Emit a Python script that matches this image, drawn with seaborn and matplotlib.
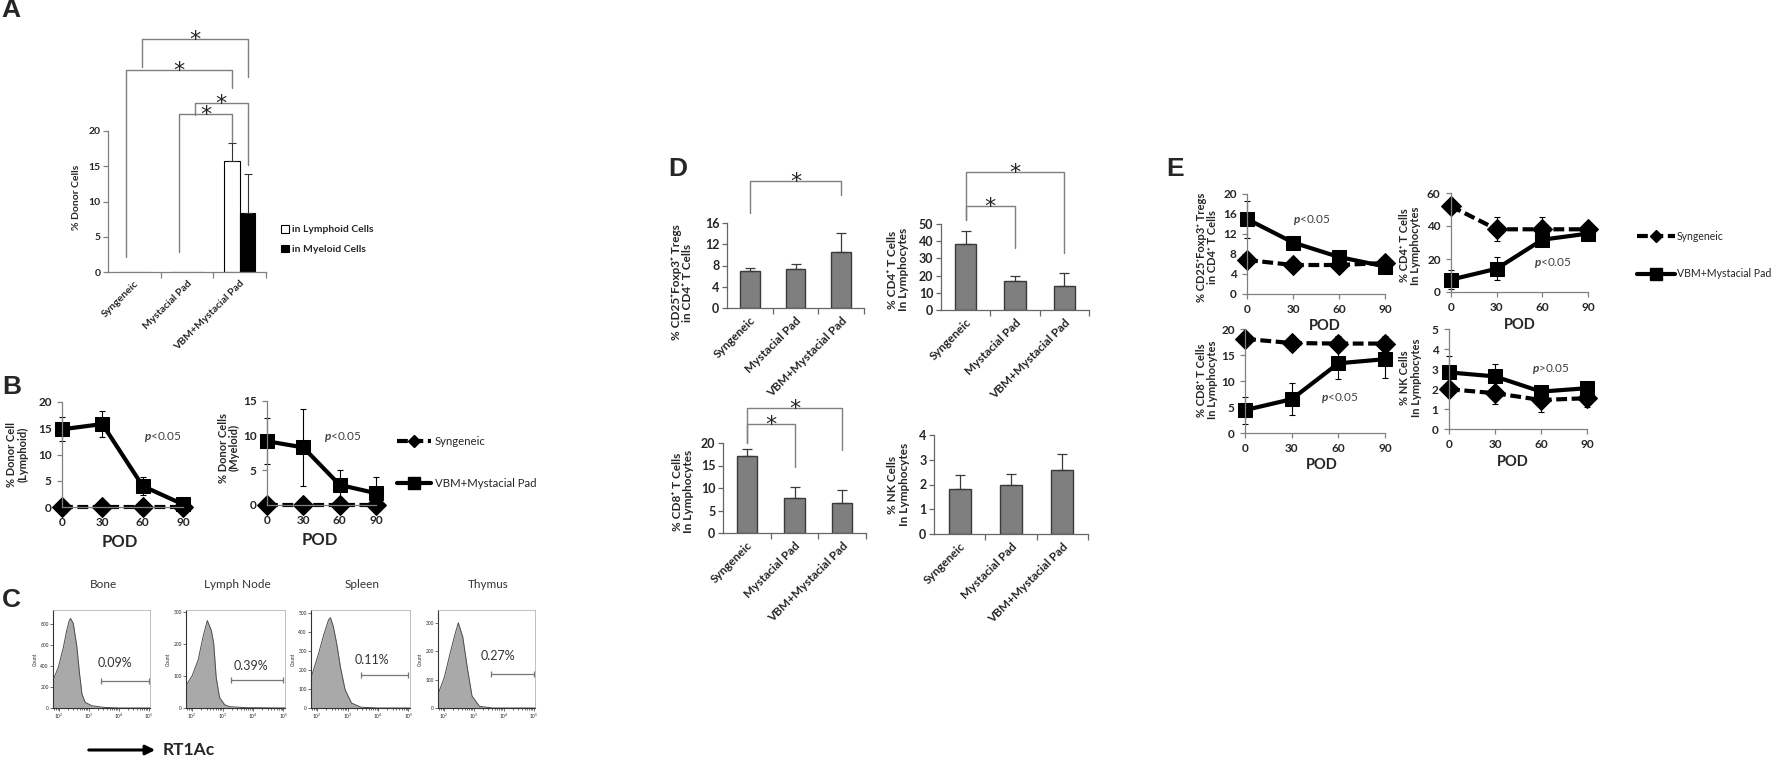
import numpy as np
import pandas as pd
import seaborn as sns
import matplotlib.pyplot as plt
from matplotlib.lines import Line2D
from matplotlib.patches import Patch

sns.set_theme(style='white')
plt.rcParams['font.family'] = ['Lato', 'DejaVu Sans']
plt.rcParams['font.weight'] = 'bold'
plt.rcParams['axes.labelweight'] = 'bold'
plt.rcParams['axes.facecolor'] = 'none'
plt.rcParams['mathtext.fontset'] = 'custom'
plt.rcParams['mathtext.rm'] = 'Lato'
plt.rcParams['mathtext.it'] = 'Lato:italic'
plt.rcParams['mathtext.bf'] = 'Lato:bold'

# ---------------- data ----------------
groups = ['Syngeneic', 'Mystacial Pad', 'VBM+Mystacial Pad']
pod = [0, 30, 60, 90]
lymph_lab = 'in Lymphoid Cells'
myel_lab = 'in Myeloid Cells'

# A: % donor cells
donor_lymphoid = [0.05, 0.05, 15.7]
donor_lymphoid_err = [0, 0, 2.6]
donor_myeloid = [0.05, 0.05, 8.3]
donor_myeloid_err = [0, 0, 5.6]
# A significance brackets (cell type, from group, to group, left leg, top, right leg)
a_br_cells = [myel_lab, lymph_lab, myel_lab, lymph_lab]
a_br_from = [0, 0, 1, 1]
a_br_to = [2, 2, 2, 2]
a_br_left = [29.1, 2.1, 22.3, 2.8]
a_br_top = [33.0, 28.6, 24.0, 22.4]
a_br_right = [27.7, 26.1, 15.2, 18.4]

# B: donor chimerism over time
b_lymph_syn = [0, 0, 0, 0]
b_lymph_vbm = [14.8, 15.8, 4.0, 0.5]
b_lymph_vbm_err = [2.3, 2.5, 1.7, 0.3]
b_myel_syn = [0, 0, 0, 0]
b_myel_vbm = [9.2, 8.3, 2.9, 1.7]
b_myel_vbm_err = [3.3, 5.6, 2.1, 2.3]

# C: flow histograms (log10 fluorescence, count)
bone_log = [1.8, 1.98, 2.15, 2.26, 2.35, 2.39, 2.48, 2.6, 2.69, 2.77, 2.88, 3.1, 3.49, 4.0, 5.05]
bone_count = [262, 390, 582, 742, 838, 854, 806, 582, 326, 134, 54, 22, 6, 0, 0]
lymph_log = [1.8, 2.0, 2.2, 2.36, 2.5, 2.63, 2.71, 2.79, 2.9, 3.07, 3.24, 3.8, 5.05]
lymph_count = [70, 100, 150, 222, 272, 242, 201, 96, 33, 10, 4, 1, 0]
spleen_log = [1.8, 2.04, 2.22, 2.38, 2.44, 2.53, 2.65, 2.77, 2.92, 3.13, 3.44, 4.0, 5.05]
spleen_count = [158, 281, 386, 465, 474, 430, 333, 211, 96, 26, 4, 0, 0]
thymus_log = [1.8, 2.01, 2.2, 2.36, 2.48, 2.63, 2.78, 2.94, 3.19, 3.62, 5.05]
thymus_count = [48, 107, 190, 256, 300, 250, 143, 42, 6, 0, 0]
tissues = ['Bone', 'Lymph Node', 'Spleen', 'Thymus']
hist_ymax = [935, 305, 515, 345]
hist_yticks = [[0, 200, 400, 600, 800], [0, 100, 200, 300], [0, 100, 200, 300, 400, 500], [0, 100, 200, 300]]
gate_lo = [3.4, 3.28, 3.44, 3.58]
gate_y = [260, 88, 175, 118]
gate_pct = ['0.09%', '0.39%', '0.11%', '0.27%']
pct_x = [3.88, 3.93, 3.8, 3.8]
pct_y = [430, 132, 250, 183]

# D: phenotypes
tregs = [7.0, 7.3, 10.5]
tregs_err = [0.6, 0.9, 3.6]
cd4 = [38.5, 16.9, 14.2]
cd4_err = [7.6, 2.6, 7.2]
cd8 = [17.2, 7.7, 6.6]
cd8_err = [1.5, 2.6, 3.0]
nk = [1.81, 1.96, 2.59]
nk_err = [0.58, 0.46, 0.64]

# E: phenotypes over time
e_tregs_syn = [6.8, 5.8, 5.8, 6.2]
e_tregs_syn_err = [1.3, 0.5, 0.8, 0.8]
e_tregs_vbm = [15.0, 10.3, 7.4, 5.5]
e_tregs_vbm_err = [3.7, 1.2, 1.0, 0.8]
e_cd4_syn = [52, 38, 38, 38]
e_cd4_syn_err = [3, 7.3, 7.5, 4]
e_cd4_vbm = [7.5, 14.1, 31.7, 35.4]
e_cd4_vbm_err = [5.6, 7.0, 4.0, 4.0]
e_cd8_syn = [18.1, 17.3, 17.2, 17.2]
e_cd8_syn_err = [1.0, 1.3, 1.5, 1.4]
e_cd8_vbm = [4.4, 6.5, 13.4, 14.2]
e_cd8_vbm_err = [2.6, 3.1, 3.0, 3.6]
e_nk_syn = [1.99, 1.79, 1.45, 1.54]
e_nk_syn_err = [0.3, 0.55, 0.58, 0.42]
e_nk_vbm = [2.83, 2.63, 1.87, 2.04]
e_nk_vbm_err = [0.8, 0.6, 0.2, 0.2]

# ---------------- figure ----------------
W, H = 1772, 763
fig = plt.figure(figsize=(W / 100, H / 100), dpi=100)


def px_axes(x0, y0, x1, y1):
    return fig.add_axes([x0 / W, 1 - y1 / H, (x1 - x0) / W, (y1 - y0) / H])


def style(ax, color='#808080', size=8):
    sns.despine(ax=ax)
    for s in ('left', 'bottom'):
        ax.spines[s].set_color(color)
        ax.spines[s].set_linewidth(0.9)
    ax.tick_params(which='both', bottom=True, left=True, direction='out', length=3.5,
                   width=0.9, color=color, labelsize=size, pad=2)
    ax.set_xlabel('')
    ax.set_ylabel('')


def ylab(ax, text, x, y, size=8):
    ax.set_ylabel(text, fontsize=size, linespacing=1.05)
    ax.yaxis.set_label_coords(x, y)
    ax.yaxis.label.set_va('center')


def bracket(ax, x1, x2, yl, yt, yr, size=16):
    ax.plot([x1, x1, x2, x2], [yl, yt, yt, yr], color='#7f7f7f', lw=1, clip_on=False)
    ax.annotate('*', xy=((x1 + x2) / 2, yt), xytext=(0, -5), textcoords='offset points',
                ha='center', va='baseline', fontsize=size, fontweight='normal',
                family='DejaVu Sans', annotation_clip=False)


def cat_axis(ax, size=8):
    ax.set_xlim(-0.5, 2.5)
    ax.set_xticks(range(3), labels=groups, rotation=45, ha='right', rotation_mode='anchor',
                  fontsize=size)
    ax.set_xticks([0.5, 1.5, 2.5], minor=True)
    ax.tick_params(axis='x', which='major', length=0, pad=5)
    ax.tick_params(axis='x', which='minor', length=4)


overlay = fig.add_axes([0, 0, 1, 1], zorder=10)
overlay.set_xlim(0, W)
overlay.set_ylim(H, 0)
overlay.axis('off')

# panel letters
for letter, lx, ly in [('A', 1, -2), ('B', 2, 375), ('C', 2, 588), ('D', 668, 157), ('E', 1166, 157)]:
    overlay.text(lx, ly, letter, fontsize=19, fontweight='bold', family='Liberation Sans',
                 ha='left', va='top')

# ---------- A ----------
axA = px_axes(108, 131, 266, 272)
a_df = pd.DataFrame({'group': groups * 2,
                     'cells': [lymph_lab] * 3 + [myel_lab] * 3,
                     'value': donor_lymphoid + donor_myeloid})
sns.barplot(data=a_df, x='group', y='value', hue='cells', palette=['white', 'black'],
            edgecolor='black', linewidth=0.8, width=0.6, errorbar=None, saturation=1,
            legend=False, ax=axA)
centers = {}
for cont, lab, vals, errs in zip(axA.containers, [lymph_lab, myel_lab],
                                 [donor_lymphoid, donor_myeloid],
                                 [donor_lymphoid_err, donor_myeloid_err]):
    xs = [b.get_x() + b.get_width() / 2 for b in cont]
    centers[lab] = xs
    keep = [i for i, e in enumerate(errs) if e > 0]
    axA.errorbar([xs[i] for i in keep], [vals[i] for i in keep],
                 yerr=[[0] * len(keep), [errs[i] for i in keep]], fmt='none',
                 ecolor='#333333', elinewidth=0.8, capsize=3, capthick=0.8)
style(axA, size=7.5)
axA.set_ylim(0, 20)
axA.set_yticks([0, 5, 10, 15, 20])
cat_axis(axA, size=7.5)
ylab(axA, '% Donor Cells', -0.2, 0.53, size=7.5)
for c, f, t, yl, yt, yr in zip(a_br_cells, a_br_from, a_br_to, a_br_left, a_br_top, a_br_right):
    bracket(axA, centers[c][f], centers[c][t], yl, yt, yr)
fig.legend(handles=[Patch(facecolor='white', edgecolor='black', lw=0.8, label=lymph_lab),
                    Patch(facecolor='black', edgecolor='black', lw=0.8, label=myel_lab)],
           loc='upper left', bbox_to_anchor=(281 / W, 1 - 225 / H), frameon=False,
           prop=dict(weight='bold', size=7.5), handlelength=0.75, handleheight=0.75,
           handletextpad=0.3, labelspacing=1.0, borderpad=0, borderaxespad=0)


# ---------- line panels ----------
def line_panel(ax, syn, syn_err, vbm, vbm_err, ymax, yticks, ms=10):
    df = pd.DataFrame({'POD': pod * 2, 'value': syn + vbm,
                       'group': ['Syngeneic'] * 4 + ['VBM+Mystacial Pad'] * 4})
    for vals, errs in ((syn, syn_err), (vbm, vbm_err)):
        keep = [i for i, e in enumerate(errs) if e > 0]
        if keep:
            ax.errorbar([pod[i] for i in keep], [vals[i] for i in keep],
                        yerr=[errs[i] for i in keep], fmt='none', ecolor='black',
                        elinewidth=0.8, capsize=2, capthick=0.8, clip_on=False)
    sns.lineplot(data=df, x='POD', y='value', hue='group', style='group',
                 palette=['black', 'black'], markers=['D', 's'], dashes=[(2.6, 1.1), ''],
                 linewidth=3, markersize=ms, markeredgecolor='black', legend=False, ax=ax)
    for ln in ax.lines:
        ln.set_clip_on(False)
    style(ax, color='#808080', size=8.5)
    ax.tick_params(axis='x', pad=4)
    ax.tick_params(axis='y', pad=4)
    ax.set_xlim(0, 90)
    ax.set_xticks(pod)
    ax.set_ylim(0, ymax)
    ax.set_yticks(yticks)


def pod_label(ax, x, y, size=10.5):
    ax.set_xlabel('POD', fontsize=size)
    ax.xaxis.set_label_coords(x, y)
    ax.xaxis.label.set_va('center')


def pval(ax, x, y, text, size=8.5):
    ax.text(x, y, text, transform=ax.transAxes, ha='center', va='center',
            fontsize=size, fontweight='normal', color='#404040')


# ---------- B ----------
axB1 = px_axes(62, 402, 183, 507)
line_panel(axB1, b_lymph_syn, [0] * 4, b_lymph_vbm, b_lymph_vbm_err, 20, [0, 5, 10, 15, 20])
ylab(axB1, '% Donor Cell\n(Lymphoid)', -0.37, 0.5, size=8)
pod_label(axB1, 0.48, -0.33, size=12)
pval(axB1, 0.83, 0.67, r'$\mathit{p}$<0.05')

axB2 = px_axes(267, 401, 376, 505)
line_panel(axB2, b_myel_syn, [0] * 4, b_myel_vbm, b_myel_vbm_err, 15, [0, 5, 10, 15])
ylab(axB2, '% Donor Cells\n(Myeloid)', -0.35, 0.55, size=8)
pod_label(axB2, 0.48, -0.34, size=12)
pval(axB2, 0.70, 0.65, r'$\mathit{p}$<0.05')

leg_handles = [Line2D([], [], color='black', lw=3, ls=(0, (2.6, 1.1)), marker='D', ms=6),
               Line2D([], [], color='black', lw=3, marker='s', ms=8)]
leg_labels = ['Syngeneic', 'VBM+Mystacial Pad']
fig.legend(leg_handles, leg_labels, loc='upper left', bbox_to_anchor=(397 / W, 1 - 436 / H),
           frameon=False, prop=dict(weight='normal', size=8.2), handlelength=3.0,
           handletextpad=0.3, labelspacing=2.7, borderpad=0, borderaxespad=0, numpoints=1)

# ---------- C ----------
hist_boxes = [(53, 150), (186, 285), (311, 410), (438, 535)]
hist_logs = [bone_log, lymph_log, spleen_log, thymus_log]
hist_counts = [bone_count, lymph_count, spleen_count, thymus_count]
for i, (x0, x1) in enumerate(hist_boxes):
    ax = px_axes(x0, 610, x1, 708)
    xs = 10 ** np.array(hist_logs[i])
    ax.set_xscale('log')
    ax.fill_between(xs, hist_counts[i], color='#a9a9a9', lw=0)
    sns.lineplot(x=xs, y=hist_counts[i], color='#4d4d4d', lw=0.7, ax=ax)
    ax.set_xlim(10 ** 1.8, 10 ** 5.05)
    ax.set_ylim(0, hist_ymax[i])
    ax.set_yticks(hist_yticks[i])
    ax.set_xticks([1e2, 1e3, 1e4, 1e5])
    for s in ('left', 'bottom'):
        ax.spines[s].set_color('#333333')
        ax.spines[s].set_linewidth(0.8)
    for s in ('top', 'right'):
        ax.spines[s].set_color('#b5b5b5')
        ax.spines[s].set_linewidth(0.6)
    ax.tick_params(which='both', bottom=True, left=True, direction='out', length=2,
                   width=0.5, labelsize=3.5, pad=1, color='#333333')
    ax.tick_params(which='minor', length=1.2)
    for lab in ax.get_xticklabels() + ax.get_yticklabels():
        lab.set_fontweight('normal')
    ax.set_ylabel('Count', fontsize=3.5, fontweight='normal', labelpad=2)
    ax.set_xlabel('')
    gx = [10 ** gate_lo[i], 10 ** 5.0]
    ax.plot(gx, [gate_y[i]] * 2, color='#777777', lw=0.9)
    ax.plot(gx, [gate_y[i]] * 2, color='#777777', ls='', marker='|', ms=4, mew=0.9)
    ax.text(10 ** pct_x[i], pct_y[i], gate_pct[i], ha='center', va='center', fontsize=9,
            fontweight='normal', color='#333333')
    overlay.text((x0 + x1) / 2 + 2, 584, tissues[i], ha='center', va='center', fontsize=8.5,
                 fontweight='normal', color='#333333')

overlay.annotate('', xy=(158, 750), xytext=(86, 750),
                 arrowprops=dict(arrowstyle='-|>', lw=2.2, color='black', mutation_scale=14))
overlay.text(163, 750, 'RT1Ac', ha='left', va='center', fontsize=12.5, fontweight='bold')


# ---------- D ----------
def bar_panel(ax, vals, errs, ymax, yticks):
    df = pd.DataFrame({'group': groups, 'value': vals})
    sns.barplot(data=df, x='group', y='value', color='#7f7f7f', edgecolor='#3a3a3a',
                linewidth=1, width=0.43, errorbar=None, saturation=1, ax=ax)
    ax.errorbar(range(3), vals, yerr=[[0, 0, 0], errs], fmt='none', ecolor='#3a3a3a',
                elinewidth=0.9, capsize=3.5, capthick=0.9)
    style(ax, color='#666666', size=9)
    ax.set_ylim(0, ymax)
    ax.set_yticks(yticks)
    cat_axis(ax, size=8.5)


axD1 = px_axes(727, 223, 864, 308)
bar_panel(axD1, tregs, tregs_err, 16, [0, 4, 8, 12, 16])
ylab(axD1, '% CD25⁺Foxp3⁺ Tregs\nin CD4⁺ T Cells', -0.33, 0.3, size=8.5)
bracket(axD1, 0, 2, 17.9, 23.9, 21.3)

axD2 = px_axes(941, 224, 1089, 310)
bar_panel(axD2, cd4, cd4_err, 50, [0, 10, 20, 30, 40, 50])
ylab(axD2, '% CD4⁺ T Cells\nIn Lymphocytes', -0.29, 0.47, size=8.5)
bracket(axD2, 0, 2, 52.3, 80.2, 33.1)
bracket(axD2, 0, 1, 52.3, 60.5, 36.0)

axD3 = px_axes(723, 443, 866, 533)
bar_panel(axD3, cd8, cd8_err, 20, [0, 5, 10, 15, 20])
ylab(axD3, '% CD8⁺ T Cells\nIn Lymphocytes', -0.28, 0.46, size=8.5)
bracket(axD3, 0, 2, 20.0, 27.8, 18.4)
bracket(axD3, 0, 1, 20.0, 24.2, 14.7)

axD4 = px_axes(934, 435, 1088, 534)
bar_panel(axD4, nk, nk_err, 4, [0, 1, 2, 3, 4])
ylab(axD4, '% NK Cells\nIn Lymphocytes', -0.23, 0.5, size=8.5)

# ---------- E ----------
axE1 = px_axes(1247, 194, 1385, 294)
line_panel(axE1, e_tregs_syn, e_tregs_syn_err, e_tregs_vbm, e_tregs_vbm_err, 20, [0, 4, 8, 12, 16, 20])
ylab(axE1, '% CD25⁺Foxp3⁺ Tregs\nin CD4⁺ T Cells', -0.29, 0.47)
pod_label(axE1, 0.56, -0.32)
pval(axE1, 0.47, 0.74, r'$\mathit{p}$<0.05')

axE2 = px_axes(1451, 193, 1588, 292)
line_panel(axE2, e_cd4_syn, e_cd4_syn_err, e_cd4_vbm, e_cd4_vbm_err, 60, [0, 20, 40, 60])
ylab(axE2, '% CD4⁺ T Cells\nIn Lymphocytes', -0.3, 0.47)
pod_label(axE2, 0.5, -0.33)
pval(axE2, 0.74, 0.29, r'$\mathit{p}$<0.05')

axE3 = px_axes(1245, 329, 1385, 433)
line_panel(axE3, e_cd8_syn, e_cd8_syn_err, e_cd8_vbm, e_cd8_vbm_err, 20, [0, 5, 10, 15, 20])
ylab(axE3, '% CD8⁺ T Cells\nIn Lymphocytes', -0.27, 0.51)
pod_label(axE3, 0.55, -0.31)
pval(axE3, 0.68, 0.34, r'$\mathit{p}$<0.05')

axE4 = px_axes(1449, 329, 1587, 429)
line_panel(axE4, e_nk_syn, e_nk_syn_err, e_nk_vbm, e_nk_vbm_err, 5, [0, 1, 2, 3, 4, 5])
ylab(axE4, '% NK Cells\nIn Lymphocytes', -0.28, 0.51)
pod_label(axE4, 0.46, -0.33)
pval(axE4, 0.74, 0.60, r'$\mathit{p}$>0.05')

fig.legend(leg_handles, leg_labels, loc='upper left', bbox_to_anchor=(1637 / W, 1 - 231 / H),
           frameon=False, prop=dict(weight='normal', size=7.6), handlelength=3.6,
           handletextpad=0.15, labelspacing=2.5, borderpad=0, borderaxespad=0, numpoints=1)

fig.savefig('out.png', dpi=100, facecolor='white')
